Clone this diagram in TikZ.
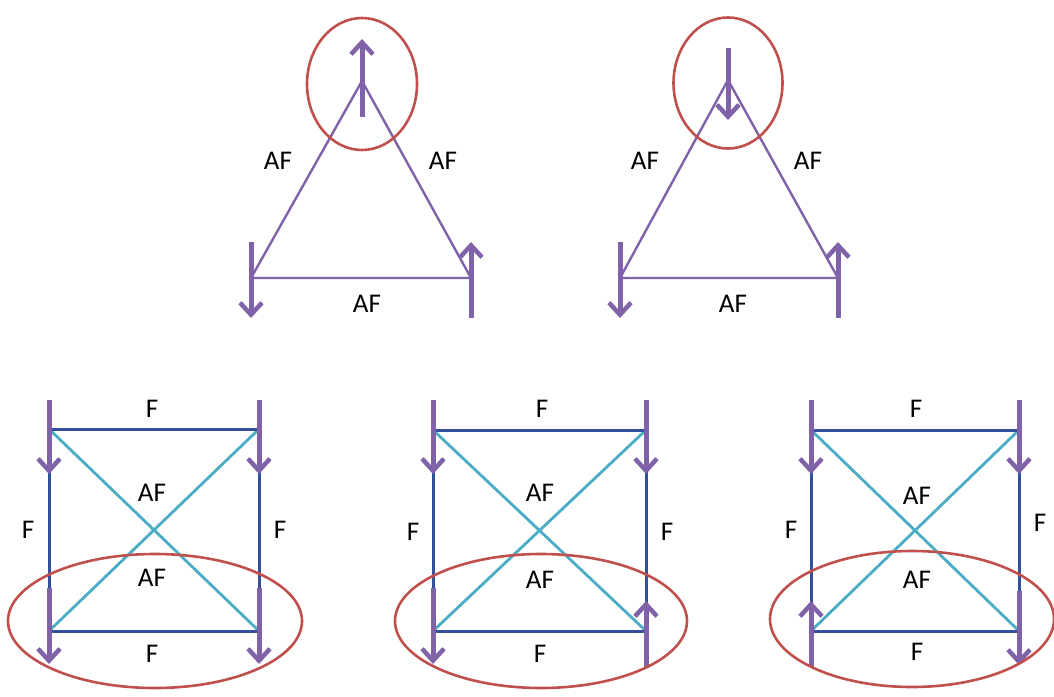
\documentclass[tikz,border=0pt]{standalone}
\usepackage{fontspec}
\setmainfont{Carlito}
\usetikzlibrary{arrows.meta,calc,shapes.geometric}
\definecolor{spinc}{RGB}{128,98,168}
\definecolor{edgec}{RGB}{50,80,155}
\definecolor{diagc}{RGB}{75,172,198}
\definecolor{ringc}{RGB}{192,80,77}
\tikzset{
  spin/.style={draw=spinc, line width=5pt, -{Straight Barb[length=12pt,width=22pt,line width=4.5pt]}},
  triedge/.style={draw=spinc, line width=2.4pt},
  sqedge/.style={draw=edgec, line width=3pt},
  diag/.style={draw=diagc, line width=2.8pt},
  ring/.style={draw=ringc, line width=2.6pt},
  lab/.style={font=\fontsize{27}{30}\selectfont, inner sep=0pt, text=black}
}
\begin{document}
\begin{tikzpicture}[x=1pt,y=-1pt]
\useasboundingbox (0,0) rectangle (1054,696);
\fill[white] (0,0) rectangle (1054,696);

% ---------- triangle 1 ----------
\coordinate (t1a) at (362,81);
\coordinate (t1l) at (251,278);
\coordinate (t1r) at (471,278);
\draw[triedge] (t1l) -- (t1a) -- (t1r) -- cycle;
\draw[spin] ($(t1a)+(0,36)$) -- ($(t1a)+(0,-42)$);
\draw[spin] ($(t1l)+(0,-36)$) -- ($(t1l)+(0,40)$);
\draw[spin] ($(t1r)+(0,40)$) -- ($(t1r)+(0,-36)$);
\node[ring, ellipse, minimum width=110pt, minimum height=132pt, inner sep=0pt] (e1) at (362,84) {};
\node[lab] (t1lab1) at (278,161) {AF};
\node[lab] (t1lab2) at (443,161) {AF};
\node[lab] (t1lab3) at (367,304) {AF};

% ---------- triangle 2 ----------
\coordinate (t2a) at (728,80);
\coordinate (t2l) at (620,278);
\coordinate (t2r) at (838,278);
\draw[triedge] (t2l) -- (t2a) -- (t2r) -- cycle;
\draw[spin] ($(t2a)+(0,-32)$) -- ($(t2a)+(0,40)$);
\draw[spin] ($(t2l)+(0,-36)$) -- ($(t2l)+(0,40)$);
\draw[spin] ($(t2r)+(0,40)$) -- ($(t2r)+(0,-36)$);
\node[ring, ellipse, minimum width=109pt, minimum height=131pt, inner sep=0pt] (e2) at (728,83) {};
\node[lab] (t2lab1) at (645,161) {AF};
\node[lab] (t2lab2) at (808,161) {AF};
\node[lab] (t2lab3) at (733,304) {AF};

% ---------- square 1 ----------
\coordinate (s1tl) at (49,429);
\coordinate (s1tr) at (259,429);
\coordinate (s1bl) at (49,631);
\coordinate (s1br) at (259,631);
\draw[diag] (s1tl) -- (s1br);
\draw[diag] (s1tr) -- (s1bl);
\draw[sqedge] (s1tl) -- (s1tr) -- (s1br) -- (s1bl) -- cycle;
\draw[spin] ($(s1tl)+(0,-29)$) -- ($(s1tl)+(0,45)$);
\draw[spin] ($(s1tr)+(0,-29)$) -- ($(s1tr)+(0,45)$);
\draw[spin] ($(s1bl)+(0,-43)$) -- ($(s1bl)+(0,33)$);
\draw[spin] ($(s1br)+(0,-43)$) -- ($(s1br)+(0,33)$);
\node[ring, ellipse, minimum width=294pt, minimum height=134pt, inner sep=0pt] (e3) at (155,621) {};
\node[lab] (s1f1) at (152,409) {F};
\node[lab] (s1f2) at (28,530) {F};
\node[lab] (s1f3) at (280,530) {F};
\node[lab] (s1af1) at (152,493) {AF};
\node[lab] (s1af2) at (152,578) {AF};
\node[lab] (s1f4) at (152,654) {F};

% ---------- square 2 ----------
\coordinate (s2tl) at (433,430);
\coordinate (s2tr) at (646,430);
\coordinate (s2bl) at (433,631);
\coordinate (s2br) at (646,631);
\draw[diag] (s2tl) -- (s2br);
\draw[diag] (s2tr) -- (s2bl);
\draw[sqedge] (s2tl) -- (s2tr) -- (s2br) -- (s2bl) -- cycle;
\draw[spin] ($(s2tl)+(0,-30)$) -- ($(s2tl)+(0,44)$);
\draw[spin] ($(s2tr)+(0,-30)$) -- ($(s2tr)+(0,44)$);
\draw[spin] ($(s2bl)+(0,-43)$) -- ($(s2bl)+(0,33)$);
\draw[spin] ($(s2br)+(0,36)$) -- ($(s2br)+(0,-30)$);
\node[ring, ellipse, minimum width=292pt, minimum height=134pt, inner sep=0pt] (e4) at (541,621) {};
\node[lab] (s2f1) at (542,409) {F};
\node[lab] (s2f2) at (413,532) {F};
\node[lab] (s2f3) at (667,532) {F};
\node[lab] (s2af1) at (540,493) {AF};
\node[lab] (s2af2) at (540,580) {AF};
\node[lab] (s2f4) at (540,654) {F};

% ---------- square 3 ----------
\coordinate (s3tl) at (811,430);
\coordinate (s3tr) at (1019,430);
\coordinate (s3bl) at (811,631);
\coordinate (s3br) at (1019,631);
\draw[diag] (s3tl) -- (s3br);
\draw[diag] (s3tr) -- (s3bl);
\draw[sqedge] (s3tl) -- (s3tr) -- (s3br) -- (s3bl) -- cycle;
\draw[spin] ($(s3tl)+(0,-30)$) -- ($(s3tl)+(0,44)$);
\draw[spin] ($(s3tr)+(0,-30)$) -- ($(s3tr)+(0,44)$);
\draw[spin] ($(s3bl)+(0,36)$) -- ($(s3bl)+(0,-30)$);
\draw[spin] ($(s3br)+(0,-40)$) -- ($(s3br)+(0,34)$);
\node[ring, ellipse, minimum width=284pt, minimum height=136pt, inner sep=0pt] (e5) at (912,619) {};
\node[lab] (s3f1) at (916,409) {F};
\node[lab] (s3f2) at (791,530) {F};
\node[lab] (s3f3) at (1040,523) {F};
\node[lab] (s3af1) at (917,496) {AF};
\node[lab] (s3af2) at (917,580) {AF};
\node[lab] (s3f4) at (917,652) {F};
\end{tikzpicture}
\end{document}
